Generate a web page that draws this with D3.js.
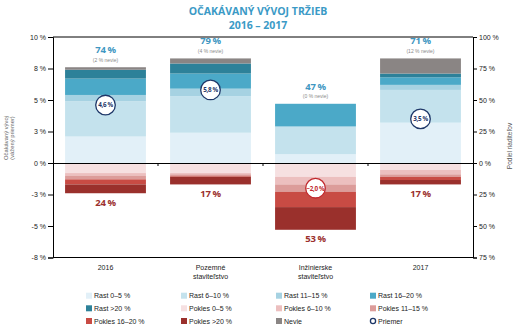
<!DOCTYPE html>
<html><head><meta charset="utf-8">
<script src="https://cdn.jsdelivr.net/npm/d3@7"></script>
<style>
html,body{margin:0;padding:0;background:#fff;}
svg{display:block;}
text{font-family:"Liberation Sans",Arial,sans-serif;}
.big{font-family:"Open Sans",sans-serif;font-weight:700;}
</style></head>
<body>
<script>
const categories = ["2016", "Pozemné staviteľstvo", "Inžinierske staviteľstvo", "2017"];
const rast0_5 = [21, 24, 7, 32];
const rast6_10 = [28, 29, 22, 26];
const rast11_15 = [5, 6, 0, 4];
const rast16_20 = [13, 12, 18, 6];
const rastOver20 = [7, 8, 0, 3];
const nevie = [2, 4, 0, 12];
const pokles0_5 = [8, 8, 11, 5.5];
const pokles6_10 = [2, 1, 6, 3.5];
const pokles11_15 = [3, 1.5, 6, 2];
const pokles16_20 = [4, 0.5, 12, 2.5];
const poklesOver20 = [7, 6, 18, 3.5];
const growthTotal = [74, 79, 47, 71];
const declineTotal = [24, 17, 53, 17];
const average = [4.6, 5.8, -2.0, 3.5];
const leftTicks = [-7.5, -5, -2.5, 0, 2.5, 5, 7.5, 10];
const leftTickLabels = ["-8 %", "-5 %", "-3 %", "0 %", "3 %", "5 %", "8 %", "10 %"];
const rightTicks = [-75, -50, -25, 0, 25, 50, 75, 100];
const rightTickLabels = ["75 %", "50 %", "25 %", "0 %", "25 %", "50 %", "75 %", "100 %"];
const legendLabels = ["Rast 0–5 %", "Rast 6–10 %", "Rast 11–15 %", "Rast 16–20 %",
  "Rast >20 %", "Pokles 0–5 %", "Pokles 6–10 %", "Pokles 11–15 %",
  "Pokles 16–20 %", "Pokles >20 %", "Nevie", "Priemer"];

const colors = {
  "Rast 0–5 %": "#e2f0f8", "Rast 6–10 %": "#c4e2ed", "Rast 11–15 %": "#a6d2e2",
  "Rast 16–20 %": "#4ba9c8", "Rast >20 %": "#2d8199", "Nevie": "#8a8584",
  "Pokles 0–5 %": "#f6e0e1", "Pokles 6–10 %": "#ecbfbf", "Pokles 11–15 %": "#dc9c9a",
  "Pokles 16–20 %": "#c84b44", "Pokles >20 %": "#9a302c"
};
const posSeries = [["Rast 0–5 %", rast0_5], ["Rast 6–10 %", rast6_10], ["Rast 11–15 %", rast11_15],
  ["Rast 16–20 %", rast16_20], ["Rast >20 %", rastOver20], ["Nevie", nevie]];
const negSeries = [["Pokles 0–5 %", pokles0_5], ["Pokles 6–10 %", pokles6_10], ["Pokles 11–15 %", pokles11_15],
  ["Pokles 16–20 %", pokles16_20], ["Pokles >20 %", poklesOver20]];

const W = 521, H = 333;
const L = 53, R = 473, T = 37, B = 257.5;
const navy = "#1e3768", blueTxt = "#3f97c2", redTxt = "#9b302d";

const svg = d3.select("body").append("svg").attr("width", W).attr("height", H);

const x = d3.scaleBand().domain(categories).range([L, R]).paddingInner(0.23).paddingOuter(0.115);
const yL = d3.scaleLinear().domain([-7.5, 10]).range([B, T]);
const yR = d3.scaleLinear().domain([-75, 100]).range([B, T]);

// Title
svg.append("text").attr("class", "big").attr("x", 258).attr("y", 14.5).attr("text-anchor", "middle")
  .attr("font-size", 10.5).attr("fill", "#3b9ac6").text("OČAKÁVANÝ VÝVOJ TRŽIEB");
svg.append("text").attr("class", "big").attr("x", 258).attr("y", 29).attr("text-anchor", "middle")
  .attr("font-size", 10.5).attr("fill", "#3b9ac6").text("2016 – 2017");

// bars
categories.forEach((c, i) => {
  let acc = 0;
  posSeries.forEach(([name, arr]) => {
    const v = arr[i];
    if (v > 0) {
      svg.append("rect").attr("x", x(c)).attr("width", x.bandwidth())
        .attr("y", yR(acc + v)).attr("height", yR(acc) - yR(acc + v)).attr("fill", colors[name]);
    }
    acc += v;
  });
  let nacc = 0;
  negSeries.forEach(([name, arr]) => {
    const v = arr[i];
    if (v > 0) {
      svg.append("rect").attr("x", x(c)).attr("width", x.bandwidth())
        .attr("y", yR(-nacc)).attr("height", yR(-nacc - v) - yR(-nacc)).attr("fill", colors[name]);
    }
    nacc += v;
  });
  const topY = yR(acc);
  const cx = x(c) + x.bandwidth() / 2;
  svg.append("text").attr("class", "big").attr("x", cx).attr("y", topY - 14).attr("text-anchor", "middle")
    .attr("font-size", 9.5).attr("letter-spacing", -0.4).attr("fill", blueTxt).text(growthTotal[i] + " %");
  svg.append("text").attr("x", cx).attr("y", topY - 5.5).attr("text-anchor", "middle")
    .attr("font-size", 5).attr("fill", "#8a8a8a").text("(" + nevie[i] + " % nevie)");
  const botY = yR(-nacc);
  svg.append("text").attr("class", "big").attr("x", cx).attr("y", botY + 12.5).attr("text-anchor", "middle")
    .attr("font-size", 9.5).attr("letter-spacing", -0.4).attr("fill", redTxt).text(declineTotal[i] + " %");
});

// frame and axes
const g = svg.append("g");
g.append("line").attr("x1", L).attr("x2", R).attr("y1", T).attr("y2", T).attr("stroke", "#000");
g.append("line").attr("x1", L).attr("x2", R).attr("y1", B).attr("y2", B).attr("stroke", "#000");

const leftAxis = d3.axisLeft(yL).tickValues(leftTicks).tickSize(5).tickPadding(2)
  .tickFormat((d, i) => leftTickLabels[i]);
const la = svg.append("g").attr("transform", `translate(${L},0)`).call(leftAxis);
const rightAxis = d3.axisRight(yR).tickValues(rightTicks).tickSize(4).tickPadding(2)
  .tickFormat((d, i) => rightTickLabels[i]);
const ra = svg.append("g").attr("transform", `translate(${R},0)`).call(rightAxis);
[la, ra].forEach(a => {
  a.select(".domain").attr("stroke", "#000");
  a.selectAll(".tick line").attr("stroke", "#000");
  a.selectAll("text").attr("font-size", 7).attr("fill", "#222").attr("font-family", "Liberation Sans, Arial, sans-serif");
});

// zero line + category axis
const xAxis = d3.axisBottom(x).tickSize(0).tickFormat("");
svg.append("g").attr("transform", `translate(0,${yL(0)})`).call(xAxis)
  .select(".domain").attr("stroke", "#000").attr("stroke-width", 1.2);
const bounds = categories.slice(1).map(c => x(c) - x.step() * x.paddingInner() / 2);
svg.selectAll(".ctick").data(bounds).enter().append("line")
  .attr("x1", d => d).attr("x2", d => d).attr("y1", yL(0)).attr("y2", yL(0) + 3).attr("stroke", "#000");

// category labels
categories.forEach(c => {
  const words = c.split(" ");
  const t = svg.append("text").attr("x", x(c) + x.bandwidth() / 2).attr("y", 269.5)
    .attr("text-anchor", "middle").attr("font-size", 7).attr("fill", "#222");
  words.forEach((w, k) => t.append("tspan").attr("x", x(c) + x.bandwidth() / 2).attr("dy", k ? 9.5 : 0).text(w));
});

// average circles
categories.forEach((c, i) => {
  const cx = x(c) + x.bandwidth() / 2, cy = yL(average[i]);
  const col = average[i] < 0 ? "#c0282d" : navy;
  svg.append("circle").attr("cx", cx).attr("cy", cy).attr("r", 9.8)
    .attr("fill", "#fff").attr("stroke", col).attr("stroke-width", 1.3);
  svg.append("text").attr("class", "big").attr("x", cx).attr("y", cy + 2.3).attr("text-anchor", "middle")
    .attr("font-size", 6.3).attr("letter-spacing", -0.35).attr("fill", col)
    .text(d3.format(".1f")(average[i]).replace(".", ",") + " %");
});

// axis titles
const lt = svg.append("text").attr("transform", "translate(8,138) rotate(-90)").attr("text-anchor", "middle")
  .attr("font-size", 5.8).attr("fill", "#666");
lt.append("tspan").attr("x", 0).attr("dy", 0).text("Očakávaný vývoj");
lt.append("tspan").attr("x", 0).attr("dy", 5.5).text("(vážený priemer)");
svg.append("text").attr("transform", "translate(512,146) rotate(-90)").attr("text-anchor", "middle")
  .attr("font-size", 6.5).attr("fill", "#555").text("Podiel riaditeľov");

// legend
const colX = [86, 181, 276, 370], rowY = [295.7, 308.3, 321];
legendLabels.forEach((lab, k) => {
  const cxl = colX[k % 4], cyl = rowY[Math.floor(k / 4)];
  if (lab === "Priemer") {
    svg.append("circle").attr("cx", cxl + 3).attr("cy", cyl).attr("r", 2.6)
      .attr("fill", "#fff").attr("stroke", navy).attr("stroke-width", 1.3);
  } else {
    svg.append("rect").attr("x", cxl).attr("y", cyl - 3).attr("width", 6).attr("height", 6).attr("fill", colors[lab]);
  }
  svg.append("text").attr("x", cxl + 8).attr("y", cyl + 2.5).attr("font-size", 7).attr("fill", "#222").text(lab);
});
</script>
</body></html>
